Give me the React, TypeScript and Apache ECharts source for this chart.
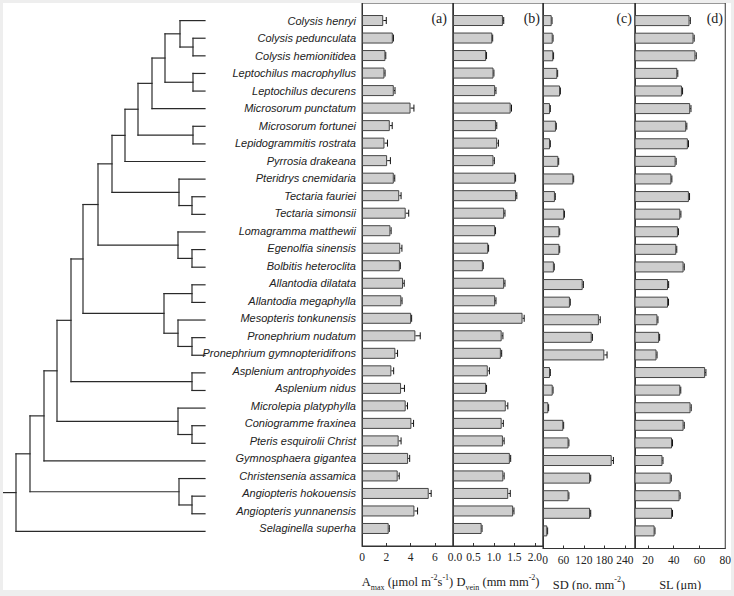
import React, { useEffect, useRef } from "react";
import * as echarts from "echarts";

// ---------------- data ----------------
const species = [
  "Colysis henryi",
  "Colysis pedunculata",
  "Colysis hemionitidea",
  "Leptochilus macrophyllus",
  "Leptochilus decurens",
  "Microsorum punctatum",
  "Microsorum fortunei",
  "Lepidogrammitis rostrata",
  "Pyrrosia drakeana",
  "Pteridrys cnemidaria",
  "Tectaria fauriei",
  "Tectaria simonsii",
  "Lomagramma matthewii",
  "Egenolfia sinensis",
  "Bolbitis heteroclita",
  "Allantodia dilatata",
  "Allantodia megaphylla",
  "Mesopteris tonkunensis",
  "Pronephrium nudatum",
  "Pronephrium gymnopteridifrons",
  "Asplenium antrophyoides",
  "Asplenium nidus",
  "Microlepia platyphylla",
  "Coniogramme fraxinea",
  "Pteris esquirolii Christ",
  "Gymnosphaera gigantea",
  "Christensenia assamica",
  "Angiopteris hokouensis",
  "Angiopteris yunnanensis",
  "Selaginella superha",
];

const amax = [1.75, 2.54, 1.93, 1.85, 2.62, 4.0, 2.29, 1.85, 2.07, 2.62, 3.07, 3.6, 2.34, 3.15, 3.12, 3.38, 3.24, 4.05, 4.4, 2.75, 2.42, 3.22, 3.6, 4.07, 3.02, 3.8, 2.94, 5.5, 4.32, 2.2];
const amaxErr = [0.25, 0.05, 0.03, 0.05, 0.1, 0.28, 0.2, 0.25, 0.27, 0.08, 0.15, 0.25, 0.06, 0.14, 0.04, 0.1, 0.06, 0.04, 0.4, 0.18, 0.19, 0.28, 0.15, 0.18, 0.2, 0.13, 0.13, 0.2, 0.26, 0.05];

const dvein = [1.22, 0.96, 0.81, 0.99, 1.03, 1.41, 1.05, 1.08, 0.99, 1.52, 1.54, 1.25, 1.03, 0.86, 0.73, 1.25, 1.03, 1.7, 1.19, 1.17, 0.85, 0.81, 1.29, 1.19, 1.22, 1.39, 1.23, 1.35, 1.47, 0.7];
const dveinErr = [0.02, 0.01, 0.01, 0.01, 0.02, 0.02, 0.02, 0.03, 0.02, 0.01, 0.02, 0.02, 0.01, 0.01, 0.01, 0.02, 0.02, 0.04, 0.03, 0.02, 0.04, 0.01, 0.05, 0.04, 0.03, 0.02, 0.02, 0.05, 0.02, 0.01];

const sd = [25.5, 28.5, 30, 42, 50, 20.5, 38, 20.5, 45, 89, 35, 62, 48, 48, 32, 116.5, 79, 164, 143, 180, 20.5, 28.5, 15.5, 59.6, 75, 201.6, 138, 75, 138, 12.6];
const sdErr = [1, 1, 1, 1, 1, 1, 1, 1, 1, 1, 1, 1, 1, 1, 1, 2, 1, 4, 2, 8, 1, 1, 1, 1, 1, 5, 2, 1, 2, 1];

const sl = [52.3, 55.4, 56.9, 42.8, 46.4, 52.8, 49.7, 51, 41.5, 38.2, 51.8, 45.1, 43.3, 42, 47.7, 35.6, 35.6, 27.4, 28.7, 26.7, 64.4, 45.1, 53.1, 47.7, 38.7, 31.3, 37.7, 44.6, 38.7, 25.2];
const slErr = [0.6, 0.5, 0.6, 0.4, 0.5, 0.6, 0.5, 0.5, 0.4, 0.4, 0.5, 0.5, 0.4, 0.4, 0.5, 0.5, 0.4, 0.4, 0.4, 0.4, 0.6, 0.4, 0.5, 0.5, 0.4, 0.4, 0.4, 0.4, 0.4, 0.3];

const labelsA = [0, 2, 4, 6];
const ticksA = [2, 4, 6];
const labelsB = [0, 0.5, 1, 1.5, 2];
const ticksB = [0.5, 1, 1.5, 2];
const labelsC = [0, 60, 120, 180, 240];
const ticksC = [60, 120, 180, 240];
const labelsD = [20, 40, 60, 80];
const ticksD = [20, 40, 60];

const panelTags = ["(a)", "(b)", "(c)", "(d)"];

// dendrogram: node = branch position (x) + children; numbers are species indices
type TreeNode = { x: number; children: Array<TreeNode | number> };
const N = (x: number, children: Array<TreeNode | number>): TreeNode => ({ x, children });
const leafX = 205;
const rootStubX = 3;
const tree: TreeNode = N(16, [
  N(30, [
    N(44, [
      N(57, [
        N(71, [
          N(83, [
            N(98, [
              N(112, [
                N(125, [
                  N(138, [
                    N(152, [
                      N(165, [N(180, [0, N(193, [1, 2])]), N(193, [3, 4])]),
                      5,
                    ]),
                    N(193, [6, 7]),
                  ]),
                  8,
                ]),
                N(179, [9, N(192, [10, 11])]),
              ]),
              N(178, [12, N(192, [13, 14])]),
            ]),
            N(164, [N(192, [15, 16]), N(178, [17, N(192, [18, 19])])]),
          ]),
          N(192, [20, 21]),
        ]),
        N(178, [22, N(192, [23, 24])]),
      ]),
      25,
    ]),
    N(179, [26, N(192, [27, 28])]),
  ]),
  29,
]);

// ---------------- layout constants ----------------
const TOP = 3;
const HEIGHT = 546;
const panels = [
  { left: 362, width: 91, min: 0, max: 7.5 },
  { left: 453, width: 90, min: 0, max: 2.2 },
  { left: 543, width: 92, min: 0, max: 270 },
  { left: 635, width: 91, min: 10, max: 80 },
];

const serif = "'Liberation Serif', 'Times New Roman', serif";
const sans = "'Liberation Sans', Arial, sans-serif";

function buildTreeSegments(): number[][] {
  const segs: number[][] = [];
  const walk = (n: TreeNode | number): { x: number; y: number } => {
    if (typeof n === "number") return { x: leafX, y: n + 1 };
    const kids = n.children.map(walk);
    const ys = kids.map((k) => k.y);
    const y0 = Math.min(...ys);
    const y1 = Math.max(...ys);
    segs.push([n.x, y0, n.x, y1]);
    kids.forEach((k) => segs.push([n.x, k.y, k.x, k.y]));
    return { x: n.x, y: (y0 + y1) / 2 };
  };
  const root = walk(tree);
  segs.push([rootStubX, root.y, root.x, root.y]);
  return segs;
}

export default function App() {
  const ref = useRef<HTMLDivElement>(null);

  useEffect(() => {
    if (!ref.current) return;
    const chart = echarts.init(ref.current, undefined, { renderer: "svg" });

    const cats = ["", ...species, ""];
    const values = [amax, dvein, sd, sl];
    const errs = [amaxErr, dveinErr, sdErr, slErr];
    const labelVals = [labelsA, labelsB, labelsC, labelsD];
    const tickVals = [ticksA, ticksB, ticksC, ticksD];
    const names = [
      "{t|A}{sub|max}{t| (μmol m}{sup|-2}{t|s}{sup|-1}{t|)}",
      "{t|D}{sub|vein}{t| (mm mm}{sup|-2}{t|)}",
      "{t|SD (no. mm}{sup|-2}{t|)}",
      "{t|SL (μm)}",
    ];
    const rich = {
      t: { fontFamily: serif, fontSize: 12.5, color: "#222", lineHeight: 18 },
      sub: { fontFamily: serif, fontSize: 8, color: "#222", lineHeight: 9, verticalAlign: "bottom" },
      sup: { fontFamily: serif, fontSize: 8, color: "#222", lineHeight: 9, verticalAlign: "top" },
    };
    const tickRich = {
      s: { fontFamily: serif, fontSize: 11.5, color: "#222", padding: [0, 0, 0, 4] },
      c: { fontFamily: serif, fontSize: 11.5, color: "#222", padding: [0, 0, 0, 4] },
    };

    const grids: any[] = panels.map((p) => ({
      left: p.left,
      width: p.width,
      top: TOP,
      height: HEIGHT,
      show: true,
      borderColor: "#333",
      borderWidth: 1,
      containLabel: false,
    }));
    grids.push({ left: 0, width: leafX, top: TOP, height: HEIGHT, containLabel: false });

    const xAxes: any[] = panels.map((p, i) => ({
      type: "value",
      gridIndex: i,
      min: p.min,
      max: p.max,
      splitLine: { show: false },
      axisLine: { show: true, lineStyle: { color: "#333", width: 1 } },
      axisTick: {
        show: true,
        inside: true,
        length: 3,
        customValues: tickVals[i],
        lineStyle: { color: "#333" },
      },
      axisLabel: {
        show: true,
        customValues: labelVals[i],
        showMinLabel: true,
        margin: 5,
        fontFamily: serif,
        fontSize: 11.5,
        color: "#222",
        rich: tickRich,
        formatter: (v: number) => {
          if (i === 1) return v === 0 ? "{s|0.0}" : v.toFixed(1);
          if (i === 2 && v === 0) return "{c|0}";
          return String(v);
        },
      },
      name: names[i],
      nameLocation: "middle",
      nameGap: 27,
      nameTextStyle: { rich },
    }));
    xAxes.push({ type: "value", gridIndex: 4, min: 0, max: leafX, show: false });

    const yAxes: any[] = panels.map((p, i) => ({
      type: "category",
      gridIndex: i,
      data: cats,
      inverse: true,
      boundaryGap: false,
      axisLine: { show: true, lineStyle: { color: "#333", width: 1 } },
      axisTick: { show: false },
      splitLine: { show: false },
      axisLabel: {
        show: i === 0,
        interval: 0,
        margin: 6,
        fontFamily: sans,
        fontStyle: "italic",
        fontSize: 11,
        color: "#222",
      },
    }));
    yAxes.push({ type: "value", gridIndex: 4, min: 0, max: cats.length - 1, inverse: true, show: false });

    const series: any[] = [];
    panels.forEach((p, i) => {
      series.push({
        type: "bar",
        xAxisIndex: i,
        yAxisIndex: i,
        barWidth: 11,
        data: [null, ...values[i], null],
        itemStyle: { color: "#cecece", borderColor: "#444", borderWidth: 1 },
        silent: true,
      });
      series.push({
        type: "custom",
        xAxisIndex: i,
        yAxisIndex: i,
        silent: true,
        encode: { x: 0, y: 1 },
        data: values[i].map((v, k) => [v, k + 1, errs[i][k]]),
        renderItem: (params: any, api: any) => {
          const v = api.value(0);
          const idx = api.value(1);
          const e = api.value(2);
          const p0 = api.coord([v, idx]);
          const p1 = api.coord([v + e, idx]);
          return {
            type: "group",
            children: [
              {
                type: "line",
                shape: { x1: p0[0], y1: p0[1], x2: p1[0], y2: p1[1] },
                style: { stroke: "#111", lineWidth: 1 },
              },
              {
                type: "line",
                shape: { x1: p1[0], y1: p1[1] - 3.5, x2: p1[0], y2: p1[1] + 3.5 },
                style: { stroke: "#111", lineWidth: 1 },
              },
            ],
          };
        },
      });
    });

    series.push({
      type: "custom",
      xAxisIndex: 4,
      yAxisIndex: 4,
      silent: true,
      dimensions: ["x1", "y1", "x2", "y2"],
      encode: { x: [0, 2], y: [1, 3] },
      data: buildTreeSegments(),
      renderItem: (params: any, api: any) => {
        const a = api.coord([api.value(0), api.value(1)]);
        const b = api.coord([api.value(2), api.value(3)]);
        return {
          type: "line",
          shape: { x1: a[0], y1: a[1], x2: b[0], y2: b[1] },
          style: { stroke: "#2a2a2a", lineWidth: 1.2, lineCap: "square" },
        };
      },
    });

    const graphic = panels.map((p, i) => ({
      type: "text",
      right: 734 - (p.left + p.width) + (i === 0 ? 6 : 3),
      top: TOP + 8,
      style: {
        text: panelTags[i],
        font: `14px ${serif}`,
        fill: "#222",
      },
      silent: true,
    }));

    chart.setOption({
      animation: false,
      backgroundColor: "#ffffff",
      grid: grids,
      xAxis: xAxes,
      yAxis: yAxes,
      series,
      graphic,
    });

    return () => chart.dispose();
  }, []);

  return (
    <div style={{ position: "absolute", left: 0, top: 0, width: 734, height: 596 }}>
      <div ref={ref} style={{ position: "absolute", left: 0, top: 0, width: 734, height: 596 }} />
      <div
        style={{
          position: "absolute",
          left: 0,
          top: 0,
          width: 734,
          height: 596,
          boxSizing: "border-box",
          borderStyle: "solid",
          borderColor: "#eeeeee",
          borderWidth: "3px 3px 6px 3px",
          pointerEvents: "none",
        }}
      />
    </div>
  );
}
